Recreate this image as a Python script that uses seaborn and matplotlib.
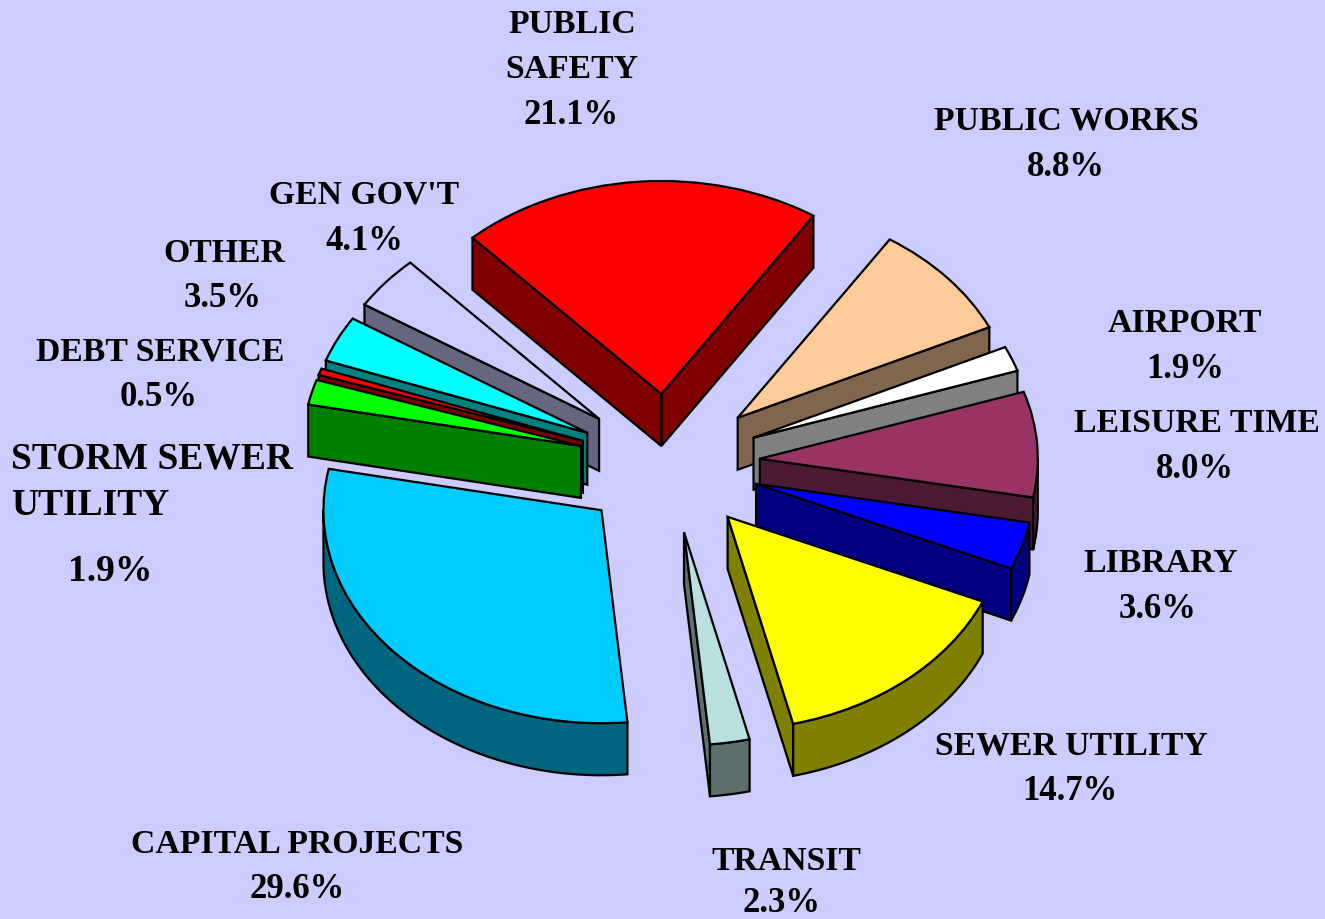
import matplotlib
matplotlib.use("Agg")
import matplotlib.pyplot as plt
import numpy as np
import seaborn as sns
from matplotlib.colors import to_rgb

W, H = 1325, 920
BG = "#CCCCFF"

sns.set_theme(style="white", rc={"figure.facecolor": BG, "axes.facecolor": BG})
plt.rcParams["font.family"] = ["Liberation Serif", "DejaVu Serif"]

# budget shares, clockwise starting from public safety
names = ["PUBLIC\nSAFETY", "PUBLIC WORKS", "AIRPORT", "LEISURE TIME", "LIBRARY", "SEWER UTILITY",
         "TRANSIT", "CAPITAL PROJECTS", "STORM SEWER\nUTILITY", "DEBT SERVICE", "OTHER", "GEN GOV'T"]
values = [21.1, 8.8, 1.9, 8.0, 3.6, 14.7, 2.3, 29.6, 1.9, 0.5, 3.5, 4.1]
colors = ["#FF0000", "#FFCC99", "#FFFFFF", "#993366", "#0000FF", "#FFFF00",
          "#B8E0E0", "#00CCFF", "#00FF00", "#FF0000", "#00FFFF", "#CCCCFF"]

# label layout in pixels of the picture
name_xy = [(572, 47), (1066, 121), (1185, 324), (1197, 424), (1161, 564), (1071, 746),
           (786, 862), (297, 845), (152, 482), (160, 352), (224, 253), (364, 195)]
value_xy = [(571, 115), (1066, 167), (1185, 370), (1195, 470), (1158, 610), (1070, 792),
            (781, 904), (297, 890), (110, 572), (159, 398), (223, 299), (364, 241)]

# pie geometry in pixels: centre, radii of the tilted disc, thickness
CX, CY = 669, 464.5
RX, RY = 278, 213
DEPTH = 52 / RY
EXPLODE = 91 / RX
START = 132.8
LW = 1.6

fig = plt.figure(figsize=(W / 100, H / 100), dpi=100)
ax = fig.add_axes([0, 0, 1, 1])

wedges, _ = ax.pie(values, colors=colors, explode=[EXPLODE] * len(values), startangle=START,
                   counterclock=False, wedgeprops={"edgecolor": "black", "linewidth": LW})

ax.set_aspect("auto")
ax.set_xlim(-CX / RX, (W - CX) / RX)
ax.set_ylim(-(H - CY) / RY, CY / RY)


def wall(xs, ys, color, z):
    xs = np.concatenate([xs, xs[::-1]])
    ys = np.concatenate([ys, ys[::-1] - DEPTH])
    ax.fill(xs, ys, facecolor=color, edgecolor="black", linewidth=LW, zorder=z)


# back slices first, the ones lower in the picture go over them
order = sorted(range(len(wedges)), key=lambda i: -wedges[i].center[1])
for rank, i in enumerate(order):
    w = wedges[i]
    z = 2 + rank
    dark = np.array(to_rgb(colors[i])) * 0.5
    x0, y0 = w.center
    t1, t2 = np.radians(w.theta1), np.radians(w.theta2)

    # cut faces, only the ones turned towards the viewer
    if np.cos(t1) > 0:
        wall(np.array([x0, x0 + np.cos(t1)]), np.array([y0, y0 + np.sin(t1)]), dark, z)
    if np.cos(t2) < 0:
        wall(np.array([x0, x0 + np.cos(t2)]), np.array([y0, y0 + np.sin(t2)]), dark, z)

    # rim, front half only
    ts = np.linspace(t1, t2, 400)
    ts = ts[np.sin(ts) <= 0]
    if len(ts) > 1:
        wall(x0 + np.cos(ts), y0 + np.sin(ts), dark, z)

    w.set_zorder(z + 0.5)

for name, value, nxy, vxy in zip(names, values, name_xy, value_xy):
    storm = name.startswith("STORM")
    fig.text(nxy[0] / W, 1 - nxy[1] / H, name, ha="center", va="center", ma="left" if storm else "center",
             fontsize=27 if storm else 24.3, fontweight="bold", color="black",
             linespacing=1.42 if storm else 1.6)
    fig.text(vxy[0] / W, 1 - vxy[1] / H, f"{value:.1f}%", ha="center", va="center",
             fontsize=27 if storm else 25, fontweight="bold", color="black")

sns.despine(ax=ax, left=True, bottom=True)
fig.savefig("out.png", dpi=100, facecolor=BG)
